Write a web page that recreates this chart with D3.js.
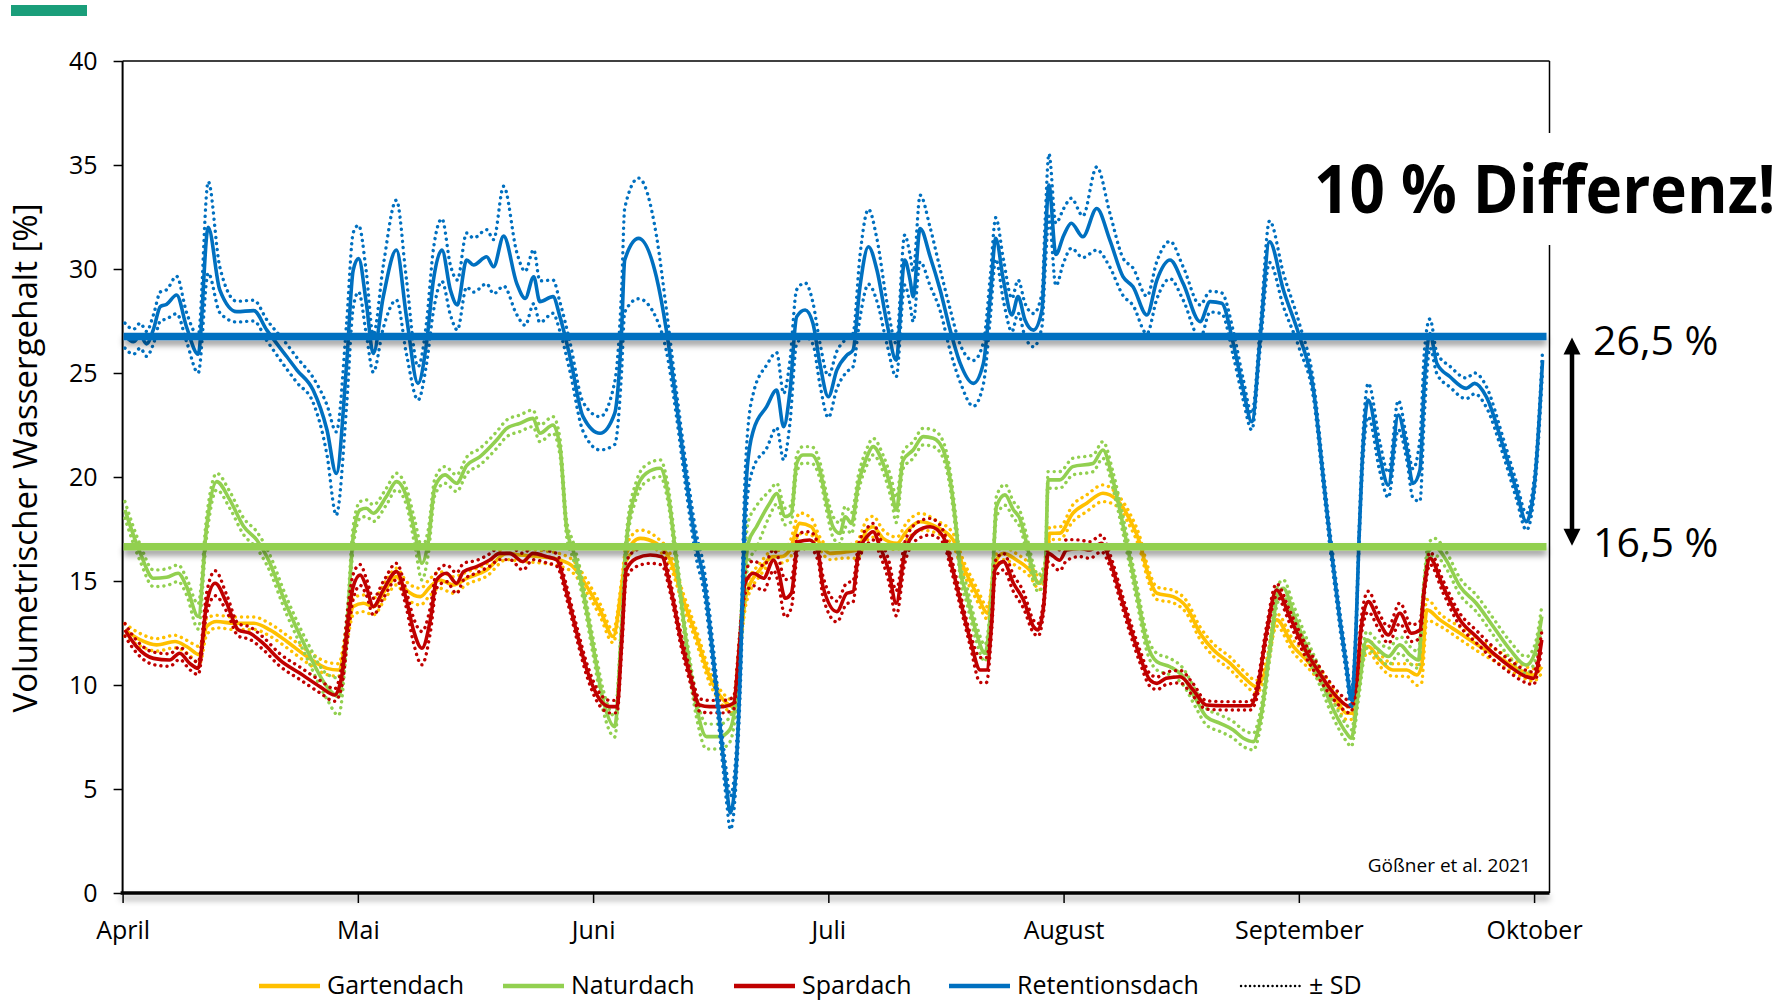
<!DOCTYPE html>
<html>
<head>
<meta charset="utf-8">
<script src="https://cdn.jsdelivr.net/npm/d3@7"></script>
<style>
  body { margin: 0; background: #fff; }
  svg { font-family: "Open Sans", "Noto Sans", sans-serif; }
</style>
</head>
<body>
<svg width="1780" height="1002"></svg>
<script>
// x = days since 1 April, y = volumetric water content [%]; each point is [day, mean, sd]
const months = ["April", "Mai", "Juni", "Juli", "August", "September", "Oktober"];
const monthDays = [0, 30.5, 61, 91.5, 122, 152.5, 183];
const yTicks = [0, 5, 10, 15, 20, 25, 30, 35, 40];
const seriesNames = ["Gartendach", "Naturdach", "Spardach", "Retentionsdach"];
const seriesColors = ["#FFC000", "#92D050", "#C00000", "#0070C0"];
const meanLevels = [26.75, 16.65];   // Retentionsdach, Naturdach

const gartendach = [
  [0.3,12.65,0.3],[2.3,12.17,0.3],[4.4,11.93,0.3],[6.8,12.09,0.3],[8.3,11.85,0.3],[10.0,11.45,0.4],
  [10.9,12.81,0.4],[12.2,13.05,0.3],[14.4,12.97,0.3],[17.0,12.97,0.3],[19.1,12.65,0.3],[21.3,12.09,0.3],
  [23.9,11.37,0.3],[26.5,10.8,0.3],[28.0,10.72,0.3],[29.1,12.49,0.4],[29.9,13.77,0.4],[31.2,13.93,0.4],
  [32.5,13.77,0.4],[34.2,14.65,0.4],[35.5,15.21,0.4],[36.8,14.57,0.4],[38.6,14.25,0.4],[39.9,14.73,0.4],
  [41.1,15.05,0.4],[42.9,14.81,0.4],[44.6,15.13,0.3],[47.2,15.53,0.3],[49.8,16.33,0.3],[51.5,16.25,0.3],
  [54.1,16.17,0.3],[56.7,16.01,0.3],[58.4,15.69,0.3],[60.2,14.73,0.3],[61.9,13.61,0.3],[63.6,12.33,0.3],
  [64.7,14.73,0.3],[65.3,16.33,0.4],[67.1,17.05,0.4],[69.2,16.81,0.3],[71.0,16.01,0.3],[72.7,14.09,0.3],
  [74.4,12.33,0.3],[76.1,10.4,0.3],[77.9,9.28,0.3],[79.2,8.96,0.3],[80.0,11.85,0.4],[80.9,14.41,0.4],
  [82.6,15.53,0.3],[84.4,16.17,0.3],[85.4,16.17,0.3],[86.5,16.49,0.4],[87.8,17.77,0.5],[89.3,17.61,0.4],
  [90.4,16.81,0.3],[91.7,16.33,0.3],[93.9,16.41,0.3],[95.2,16.49,0.4],[96.5,17.45,0.5],[97.3,17.61,0.5],
  [98.6,17.05,0.4],[100.4,16.81,0.3],[101.6,17.37,0.4],[103.4,17.85,0.4],[105.5,17.61,0.3],[107.7,16.97,0.3],
  [109.0,15.69,0.3],[110.7,14.41,0.3],[112.2,13.45,0.3],[113.1,15.85,0.3],[114.2,16.33,0.3],[115.9,16.01,0.3],
  [117.6,15.53,0.3],[118.9,14.89,0.3],[119.8,15.85,0.3],[120.2,17.29,0.3],[121.5,17.3,0.3],[123.2,18.26,0.4],
  [125.0,18.74,0.4],[127.1,19.22,0.4],[128.9,18.9,0.3],[130.6,17.94,0.3],[131.9,16.81,0.3],[132.8,15.53,0.3],
  [134.1,14.41,0.3],[136.2,14.25,0.3],[137.9,13.77,0.3],[139.7,12.49,0.3],[141.4,11.69,0.3],[143.6,11.04,0.3],
  [145.3,10.4,0.3],[147.0,9.92,0.3],[148.3,10.88,0.3],[149.6,13.13,0.3],[151.8,11.85,0.3],[153.5,11.2,0.3],
  [155.7,10.24,0.3],[157.4,9.28,0.3],[158.7,8.64,0.3],[159.5,8.64,0.3],[160.4,10.88,0.3],[161.5,11.85,0.3],
  [163.0,11.2,0.3],[164.7,10.72,0.3],[166.5,10.72,0.3],[167.8,10.48,0.5],[168.4,10.88,0.8],[169.1,13.61,0.5],
  [170.8,13.13,0.3],[173.4,12.49,0.3],[176.0,11.85,0.3],[178.6,11.29,0.3],[181.2,10.72,0.3],[182.9,10.48,0.3],
  [184.0,10.88,0.3]
];

const naturdach = [
  [0.3,18.42,0.4],[2.3,16.33,0.4],[4.0,15.13,0.4],[5.7,15.18,0.4],[7.2,15.37,0.4],[8.3,14.73,0.4],
  [9.8,13.29,0.6],[10.9,17.62,0.5],[12.2,19.78,0.4],[13.9,18.9,0.4],[15.7,17.62,0.4],[17.4,16.97,0.4],
  [18.7,16.17,0.4],[21.3,13.77,0.4],[23.9,11.69,0.4],[26.5,9.92,0.6],[28.0,9.44,0.9],[29.1,12.81,0.6],
  [29.9,17.13,0.5],[30.8,18.42,0.4],[31.6,18.5,0.4],[32.5,18.26,0.4],[34.2,19.06,0.4],[35.5,19.78,0.4],
  [36.8,19.06,0.4],[37.9,17.29,0.6],[38.8,15.85,0.8],[39.6,16.81,0.6],[40.5,19.54,0.4],[41.8,20.1,0.4],
  [43.3,19.7,0.4],[44.6,20.55,0.4],[46.3,20.97,0.4],[48.5,21.78,0.4],[49.8,22.34,0.4],[51.5,22.58,0.4],
  [53.2,22.82,0.4],[54.1,22.1,0.4],[55.8,22.5,0.4],[56.7,21.46,0.4],[57.6,17.45,0.4],[58.4,16.49,0.4],
  [59.3,15.21,0.4],[61.0,11.85,0.4],[62.3,9.28,0.5],[63.8,8.0,0.5],[64.7,12.81,0.5],[65.3,16.81,0.4],
  [66.6,19.38,0.4],[67.9,20.18,0.4],[69.7,20.42,0.4],[70.7,19.22,0.4],[71.8,16.01,0.4],[73.1,12.01,0.4],
  [74.4,8.96,0.5],[75.7,7.52,0.6],[77.4,7.52,0.6],[78.7,7.84,0.6],[79.6,9.6,0.6],[80.5,14.41,1.0],
  [81.1,16.81,1.0],[82.2,17.62,1.0],[83.9,18.74,0.6],[84.8,19.2,0.5],[85.9,18.1,0.4],[86.7,18.25,0.4],
  [87.4,20.65,0.4],[88.2,21.06,0.4],[89.3,21.06,0.4],[90.4,20.33,0.4],[91.3,18.73,0.4],[92.1,17.61,0.5],
  [93.0,17.29,0.5],[93.7,18.09,0.5],[94.5,17.77,0.5],[95.4,19.69,0.4],[96.5,20.97,0.4],[97.3,21.46,0.4],
  [98.6,20.65,0.4],[99.7,19.37,0.5],[100.3,18.41,0.6],[101.2,20.81,0.4],[102.5,21.3,0.4],[103.8,21.94,0.4],
  [105.1,21.86,0.4],[106.4,21.3,0.4],[107.3,19.85,0.4],[108.1,17.45,0.4],[108.6,15.53,0.4],[109.4,14.41,0.4],
  [110.7,12.49,0.4],[111.8,11.53,0.4],[112.7,14.41,0.4],[113.3,18.58,0.5],[114.4,19.14,0.5],[115.5,18.42,0.4],
  [116.3,18.02,0.4],[117.2,16.81,0.4],[118.1,15.37,0.4],[118.7,14.89,0.4],[119.6,15.53,0.4],[120.0,19.86,0.4],
  [121.5,19.86,0.4],[123.2,20.5,0.4],[125.8,20.65,0.4],[127.1,21.3,0.4],[128.4,19.85,0.4],[129.7,17.7,0.4],
  [131.5,14.41,0.4],[132.8,12.01,0.4],[134.1,11.12,0.4],[135.8,10.88,0.4],[137.5,10.4,0.4],[139.2,9.28,0.4],
  [140.5,8.48,0.4],[142.3,8.16,0.4],[144.0,7.84,0.4],[145.3,7.44,0.4],[146.6,7.28,0.4],[147.5,8.32,0.4],
  [148.8,11.85,0.4],[149.8,14.41,0.4],[150.5,14.65,0.4],[151.8,13.45,0.4],[153.5,11.85,0.4],[155.2,10.4,0.4],
  [157.0,8.8,0.4],[158.7,7.68,0.4],[159.3,7.44,0.4],[160.2,9.6,0.4],[161.3,12.17,0.4],[162.6,11.77,0.4],
  [164.1,11.37,0.4],[165.6,11.93,0.4],[166.9,11.45,0.4],[168.0,11.2,0.4],[168.6,14.09,0.4],[169.3,16.41,0.4],
  [170.1,16.65,0.4],[171.6,16.01,0.4],[173.4,14.73,0.4],[175.5,13.93,0.4],[177.7,12.81,0.4],[179.9,11.69,0.4],
  [182.0,10.96,0.4],[183.1,11.53,0.4],[184.0,13.29,0.5]
];

const spardach = [
  [0.3,12.65,0.3],[1.8,11.85,0.3],[4.0,11.28,0.3],[6.1,11.2,0.3],[7.4,11.53,0.3],[8.7,11.04,0.3],
  [9.8,10.8,0.3],[10.9,13.93,0.5],[12.0,14.89,0.6],[13.5,13.93,0.4],[15.0,12.65,0.3],[16.5,12.49,0.3],
  [18.2,12.01,0.3],[20.4,11.2,0.3],[23.0,10.56,0.3],[25.6,9.92,0.3],[27.5,9.52,0.3],[28.4,10.4,0.5],
  [29.3,13.29,0.7],[29.9,14.73,0.6],[30.8,15.29,0.5],[31.6,14.73,0.4],[32.5,13.77,0.4],[33.8,14.57,0.4],
  [35.5,15.45,0.4],[36.8,14.09,0.4],[37.7,12.65,0.6],[38.8,11.77,0.8],[39.9,13.13,0.6],[40.7,15.05,0.4],
  [42.0,15.37,0.4],[43.3,14.89,0.5],[44.2,15.45,0.4],[45.9,15.69,0.3],[47.6,16.01,0.3],[48.9,16.33,0.3],
  [50.2,16.33,0.3],[51.9,15.93,0.4],[53.2,16.33,0.3],[55.0,16.17,0.3],[56.3,16.01,0.3],[57.6,14.41,0.3],
  [58.9,12.49,0.3],[60.2,10.72,0.3],[61.9,9.28,0.3],[63.2,8.96,0.3],[64.1,8.96,0.3],[64.7,12.01,0.4],
  [65.3,15.53,0.4],[66.6,16.09,0.4],[68.4,16.25,0.4],[69.9,16.17,0.4],[71.0,14.73,0.3],[72.3,12.33,0.3],
  [73.6,10.4,0.3],[74.8,9.04,0.3],[76.1,8.96,0.3],[77.9,8.96,0.3],[79.2,9.12,0.3],[80.0,12.01,0.4],
  [80.7,14.89,0.5],[81.8,15.37,0.6],[83.1,15.13,0.6],[84.4,16.01,0.5],[85.0,15.53,0.6],[85.9,14.17,0.9],
  [86.7,14.41,0.7],[87.6,16.89,0.4],[89.1,16.97,0.4],[90.2,16.33,0.4],[90.8,14.73,0.5],[92.6,13.53,0.5],
  [93.9,14.41,0.5],[94.7,14.49,0.5],[95.4,16.33,0.4],[96.5,17.13,0.4],[97.3,17.37,0.4],[98.2,16.65,0.4],
  [99.3,15.53,0.5],[100.3,13.93,0.6],[101.4,16.33,0.5],[102.9,17.37,0.4],[104.7,17.61,0.4],[106.4,17.13,0.3],
  [107.3,16.01,0.3],[108.6,14.09,0.3],[109.9,12.17,0.3],[111.2,10.72,0.6],[112.0,10.72,0.6],[112.7,13.13,0.4],
  [113.1,15.53,0.4],[114.2,15.93,0.4],[115.5,14.89,0.4],[116.8,14.09,0.4],[118.1,12.81,0.3],[118.7,12.65,0.3],
  [119.4,13.77,0.3],[120.0,16.33,0.4],[121.5,16.0,0.5],[122.4,16.49,0.5],[124.1,16.57,0.4],[125.4,16.49,0.4],
  [126.9,16.81,0.4],[128.0,16.01,0.3],[129.3,14.41,0.3],[130.6,12.81,0.3],[131.9,11.37,0.3],[133.2,10.24,0.3],
  [134.1,10.08,0.3],[135.3,10.32,0.3],[137.1,10.4,0.3],[138.8,9.76,0.3],[140.5,9.04,0.2],[143.1,9.0,0.2],
  [146.2,9.0,0.2],[147.0,9.6,0.3],[148.3,12.49,0.3],[149.6,14.57,0.3],[151.3,13.29,0.3],[153.1,11.85,0.3],
  [155.2,10.56,0.3],[157.4,9.44,0.3],[159.1,8.96,0.3],[160.0,10.24,0.3],[160.6,12.81,0.4],[161.5,14.01,0.5],
  [162.8,13.13,0.4],[164.1,12.41,0.4],[165.6,13.45,0.5],[167.1,12.49,0.4],[168.2,12.65,0.4],[168.8,14.73,0.3],
  [169.5,16.09,0.3],[171.2,14.73,0.3],[173.4,13.13,0.3],[175.5,12.33,0.3],[177.7,11.53,0.3],[179.9,10.88,0.3],
  [182.0,10.4,0.3],[182.9,10.32,0.3],[184.0,12.17,0.4]
];

const retentionsdach = [
  [0.3,26.8,0.6],[1.4,26.5,0.6],[2.3,26.8,0.6],[3.1,26.4,0.6],[4.0,27.1,0.7],[4.9,28.2,0.7],
  [5.7,28.3,0.7],[7.0,28.75,0.9],[8.3,27.2,0.7],[9.8,25.9,0.9],[11.1,32.0,2.2],[12.6,29.0,1.1],
  [14.8,27.95,0.5],[17.0,28.0,0.5],[18.7,27.06,0.5],[21.3,25.78,0.6],[22.6,25.14,0.6],[24.7,24.18,0.6],
  [26.5,22.26,1.2],[27.7,20.17,2.0],[29.05,25.46,2.0],[29.9,29.95,1.8],[30.6,30.5,1.6],[31.6,28.35,1.5],
  [32.5,25.94,0.9],[33.8,28.67,1.5],[35.5,30.91,2.4],[36.8,27.71,1.8],[38.3,24.5,0.8],[39.4,26.42,1.0],
  [40.3,29.47,1.5],[41.4,30.91,1.5],[42.5,28.99,1.2],[43.4,28.27,1.2],[44.6,30.43,1.3],[45.5,30.19,1.3],
  [47.2,30.59,1.3],[48.1,30.11,1.3],[49.4,31.58,2.4],[51.1,29.31,1.5],[52.2,28.59,1.3],[53.3,29.63,1.3],
  [54.1,28.43,1.0],[55.8,28.67,0.8],[56.7,27.71,0.7],[58.0,25.78,0.7],[59.7,22.9,0.7],[61.9,22.1,0.8],
  [63.8,23.06,1.5],[64.7,27.06,2.0],[65.1,30.43,2.5],[66.9,31.47,2.9],[69.2,29.63,2.0],[70.5,27.06,1.0],
  [71.8,23.54,0.6],[73.1,19.85,0.6],[74.4,16.65,0.6],[75.3,15.2,0.6],[76.6,11.2,0.6],[77.6,7.5,0.6],
  [78.3,5.1,0.7],[78.8,3.85,0.8],[79.6,6.4,0.7],[80.2,12.0,1.0],[80.6,17.5,1.5],[81.0,20.5,1.5],
  [81.8,22.26,1.8],[83.5,23.38,2.0],[84.8,24.18,1.8],[85.7,22.42,1.6],[86.5,24.02,1.5],[87.4,27.71,1.3],
  [88.5,28.03,1.3],[89.5,27.39,1.0],[90.4,25.46,1.0],[91.5,23.86,1.0],[92.6,25.14,0.9],[93.9,25.86,0.8],
  [94.7,26.1,0.8],[95.6,29.15,1.5],[96.7,31.07,1.8],[97.8,29.95,1.5],[99.1,27.39,1.0],[100.3,25.62,0.8],
  [101.4,30.43,1.2],[102.1,29.47,1.2],[102.5,28.67,1.2],[103.4,31.95,1.6],[104.7,30.59,1.4],[106.0,28.99,1.0],
  [107.3,27.06,1.0],[108.6,25.46,0.9],[110.3,24.5,1.1],[111.6,25.46,1.0],[112.5,28.67,1.0],[113.2,31.47,1.0],
  [114.2,29.47,1.0],[115.3,27.79,0.8],[116.1,28.67,0.8],[117.0,27.55,0.8],[118.1,27.06,0.8],[119.2,28.03,0.8],
  [119.6,31.07,1.2],[120.1,34.04,1.5],[121.0,30.7,1.5],[122.0,31.6,1.3],[123.0,32.2,1.2],[124.5,31.55,1.0],
  [126.3,32.91,2.0],[128.0,31.39,1.3],[129.7,29.63,0.9],[131.0,29.15,0.9],[132.8,27.79,0.9],[134.1,29.47,0.9],
  [135.8,30.43,0.9],[137.5,29.31,0.8],[139.7,27.47,0.8],[141.0,28.43,0.5],[142.5,28.35,0.5],[144.0,26.42,0.6],
  [145.3,24.18,0.5],[146.4,22.66,0.4],[147.5,26.74,0.5],[148.7,31.31,1.0],[150.5,28.99,0.8],[152.6,26.74,0.6],
  [154.4,24.18,0.4],[155.7,19.85,0.4],[156.7,16.5,0.4],[157.0,15.6,0.4],[157.8,13.2,0.4],[158.7,10.8,0.4],
  [159.3,9.28,0.4],[159.9,12.5,0.4],[160.3,17.0,0.4],[160.7,20.6,0.6],[161.5,23.7,0.8],[163.0,20.97,0.7],
  [164.1,19.61,0.6],[165.4,22.98,0.7],[166.5,21.3,0.5],[167.3,19.69,0.7],[168.2,20.33,1.5],[168.8,24.66,1.5],
  [169.5,26.9,0.7],[170.4,25.46,0.5],[172.1,24.82,0.5],[174.2,24.26,0.5],[175.3,24.5,0.5],[176.8,23.86,0.5],
  [179.0,21.46,0.4],[180.7,19.37,0.4],[182.0,17.85,0.4],[183.1,19.85,0.4],[184.1,25.62,0.5]
];

const allSeries = [gartendach, naturdach, spardach, retentionsdach];

const svg = d3.select("svg");
const plotLeft = 122.6, plotRight = 1549.5, plotTop = 61, plotBottom = 893;

const x = d3.scaleLinear().domain([0, 185]).range([plotLeft, plotRight]);
const y = d3.scaleLinear().domain([0, 40]).range([plotBottom, plotTop]);

const defs = svg.append("defs");
defs.append("clipPath").attr("id", "plot")
  .append("rect").attr("x", plotLeft).attr("y", plotTop)
  .attr("width", plotRight - plotLeft).attr("height", plotBottom - plotTop);
// lines have a zero-height bbox, so the shadow region is given in user space
const shadow = defs.append("filter").attr("id", "shadow")
  .attr("filterUnits", "userSpaceOnUse")
  .attr("x", 0).attr("y", 0).attr("width", 1780).attr("height", 1002);
shadow.append("feDropShadow").attr("dx", 0).attr("dy", 5).attr("stdDeviation", 3)
  .attr("flood-color", "#000").attr("flood-opacity", 0.4);

// teal slide marker
svg.append("rect").attr("x", 11).attr("y", 5).attr("width", 76).attr("height", 11).attr("fill", "#1A9E7A");

// axes
const yAxis = svg.append("g").attr("transform", `translate(${plotLeft},0)`)
  .call(d3.axisLeft(y).tickValues(yTicks).tickSize(9).tickPadding(16));
const xAxis = svg.append("g").attr("transform", `translate(0,${plotBottom})`)
  .call(d3.axisBottom(x).tickValues(monthDays).tickFormat((d, i) => months[i]).tickSize(10).tickPadding(18));
[yAxis, xAxis].forEach(a => {
  a.select(".domain").remove();
  a.selectAll(".tick line").attr("stroke", "#000").attr("stroke-width", 1.5);
  a.selectAll("text").attr("font-size", 25).attr("fill", "#000").attr("font-family", "Open Sans");
});

// frame
svg.append("line").attr("x1", plotLeft).attr("x2", plotRight).attr("y1", plotTop).attr("y2", plotTop)
  .attr("stroke", "#000").attr("stroke-width", 1.5);
svg.append("line").attr("x1", plotRight).attr("x2", plotRight).attr("y1", plotTop).attr("y2", plotBottom)
  .attr("stroke", "#000").attr("stroke-width", 1.5);
svg.append("line").attr("x1", plotLeft).attr("x2", plotLeft).attr("y1", plotTop).attr("y2", plotBottom)
  .attr("stroke", "#000").attr("stroke-width", 2);

// series
const plot = svg.append("g").attr("clip-path", "url(#plot)");
const lineOf = f => d3.line().x(d => x(d[0])).y(f).curve(d3.curveMonotoneX);
allSeries.forEach((s, i) => {
  const g = plot.append("g");
  [1, -1].forEach(sign => {
    g.append("path").datum(s)
      .attr("d", lineOf(d => y(d[1] + sign * d[2])))
      .attr("fill", "none").attr("stroke", seriesColors[i]).attr("stroke-width", 3.4)
      .attr("stroke-linecap", "round").attr("stroke-dasharray", "0.1 6");
  });
  g.append("path").datum(s)
    .attr("d", lineOf(d => y(d[1])))
    .attr("fill", "none").attr("stroke", seriesColors[i]).attr("stroke-width", 3.6)
    .attr("stroke-linejoin", "round");
});

// bottom axis line with shadow
svg.append("line").attr("x1", plotLeft - 2).attr("x2", plotRight).attr("y1", plotBottom).attr("y2", plotBottom)
  .attr("stroke", "#000").attr("stroke-width", 3.5).attr("filter", "url(#shadow)");

// mean level lines
const levelColors = ["#0070C0", "#92D050"];
svg.selectAll(".level").data(meanLevels).join("line")
  .attr("class", "level")
  .attr("x1", plotLeft + 1).attr("x2", plotRight - 3)
  .attr("y1", d => y(d)).attr("y2", d => y(d))
  .attr("stroke", (d, i) => levelColors[i]).attr("stroke-width", 7.5)
  .attr("filter", "url(#shadow)");

// big note
svg.append("rect").attr("x", 1305).attr("y", 133).attr("width", 475).attr("height", 112).attr("fill", "#fff");
svg.append("text").attr("transform", "translate(1314,213) scale(0.925,1)")
  .attr("font-family", "Open Sans").attr("font-weight", "bold").attr("font-size", 67)
  .text("10 % Differenz!");

// difference arrow
const ax = 1572;
svg.append("line").attr("x1", ax).attr("x2", ax).attr("y1", y(meanLevels[0]) + 12).attr("y2", y(meanLevels[1]) - 12)
  .attr("stroke", "#000").attr("stroke-width", 4.5);
svg.append("path").attr("d", `M${ax},${y(meanLevels[0]) + 1} l-8.5,17 h17 Z`).attr("fill", "#000");
svg.append("path").attr("d", `M${ax},${y(meanLevels[1]) - 1} l-8.5,-17 h17 Z`).attr("fill", "#000");
svg.append("text").attr("x", 1593).attr("y", 355).attr("font-size", 41).text("26,5 %");
svg.append("text").attr("x", 1593).attr("y", 557).attr("font-size", 41).text("16,5 %");

// source
svg.append("text").attr("x", 1531).attr("y", 872).attr("text-anchor", "end")
  .attr("font-size", 19).text("Gößner et al. 2021");

// y title
svg.append("text").attr("transform", "translate(37,458) rotate(-90)")
  .attr("text-anchor", "middle").attr("font-size", 32)
  .attr("textLength", 509).attr("lengthAdjust", "spacingAndGlyphs")
  .text("Volumetrischer Wassergehalt [%]");

// legend
const legendX = [259, 503, 734, 949];
const legend = svg.append("g");
seriesNames.forEach((n, i) => {
  legend.append("line").attr("x1", legendX[i]).attr("x2", legendX[i] + 61).attr("y1", 986).attr("y2", 986)
    .attr("stroke", seriesColors[i]).attr("stroke-width", 4.5);
  legend.append("text").attr("x", legendX[i] + 68).attr("y", 994).attr("font-size", 25).text(n);
});
legend.append("line").attr("x1", 1241).attr("x2", 1303).attr("y1", 986).attr("y2", 986)
  .attr("stroke", "#000").attr("stroke-width", 2.4).attr("stroke-linecap", "round").attr("stroke-dasharray", "0.1 4.4");
legend.append("text").attr("x", 1309).attr("y", 994).attr("font-size", 25).text("± SD");
</script>
</body>
</html>
